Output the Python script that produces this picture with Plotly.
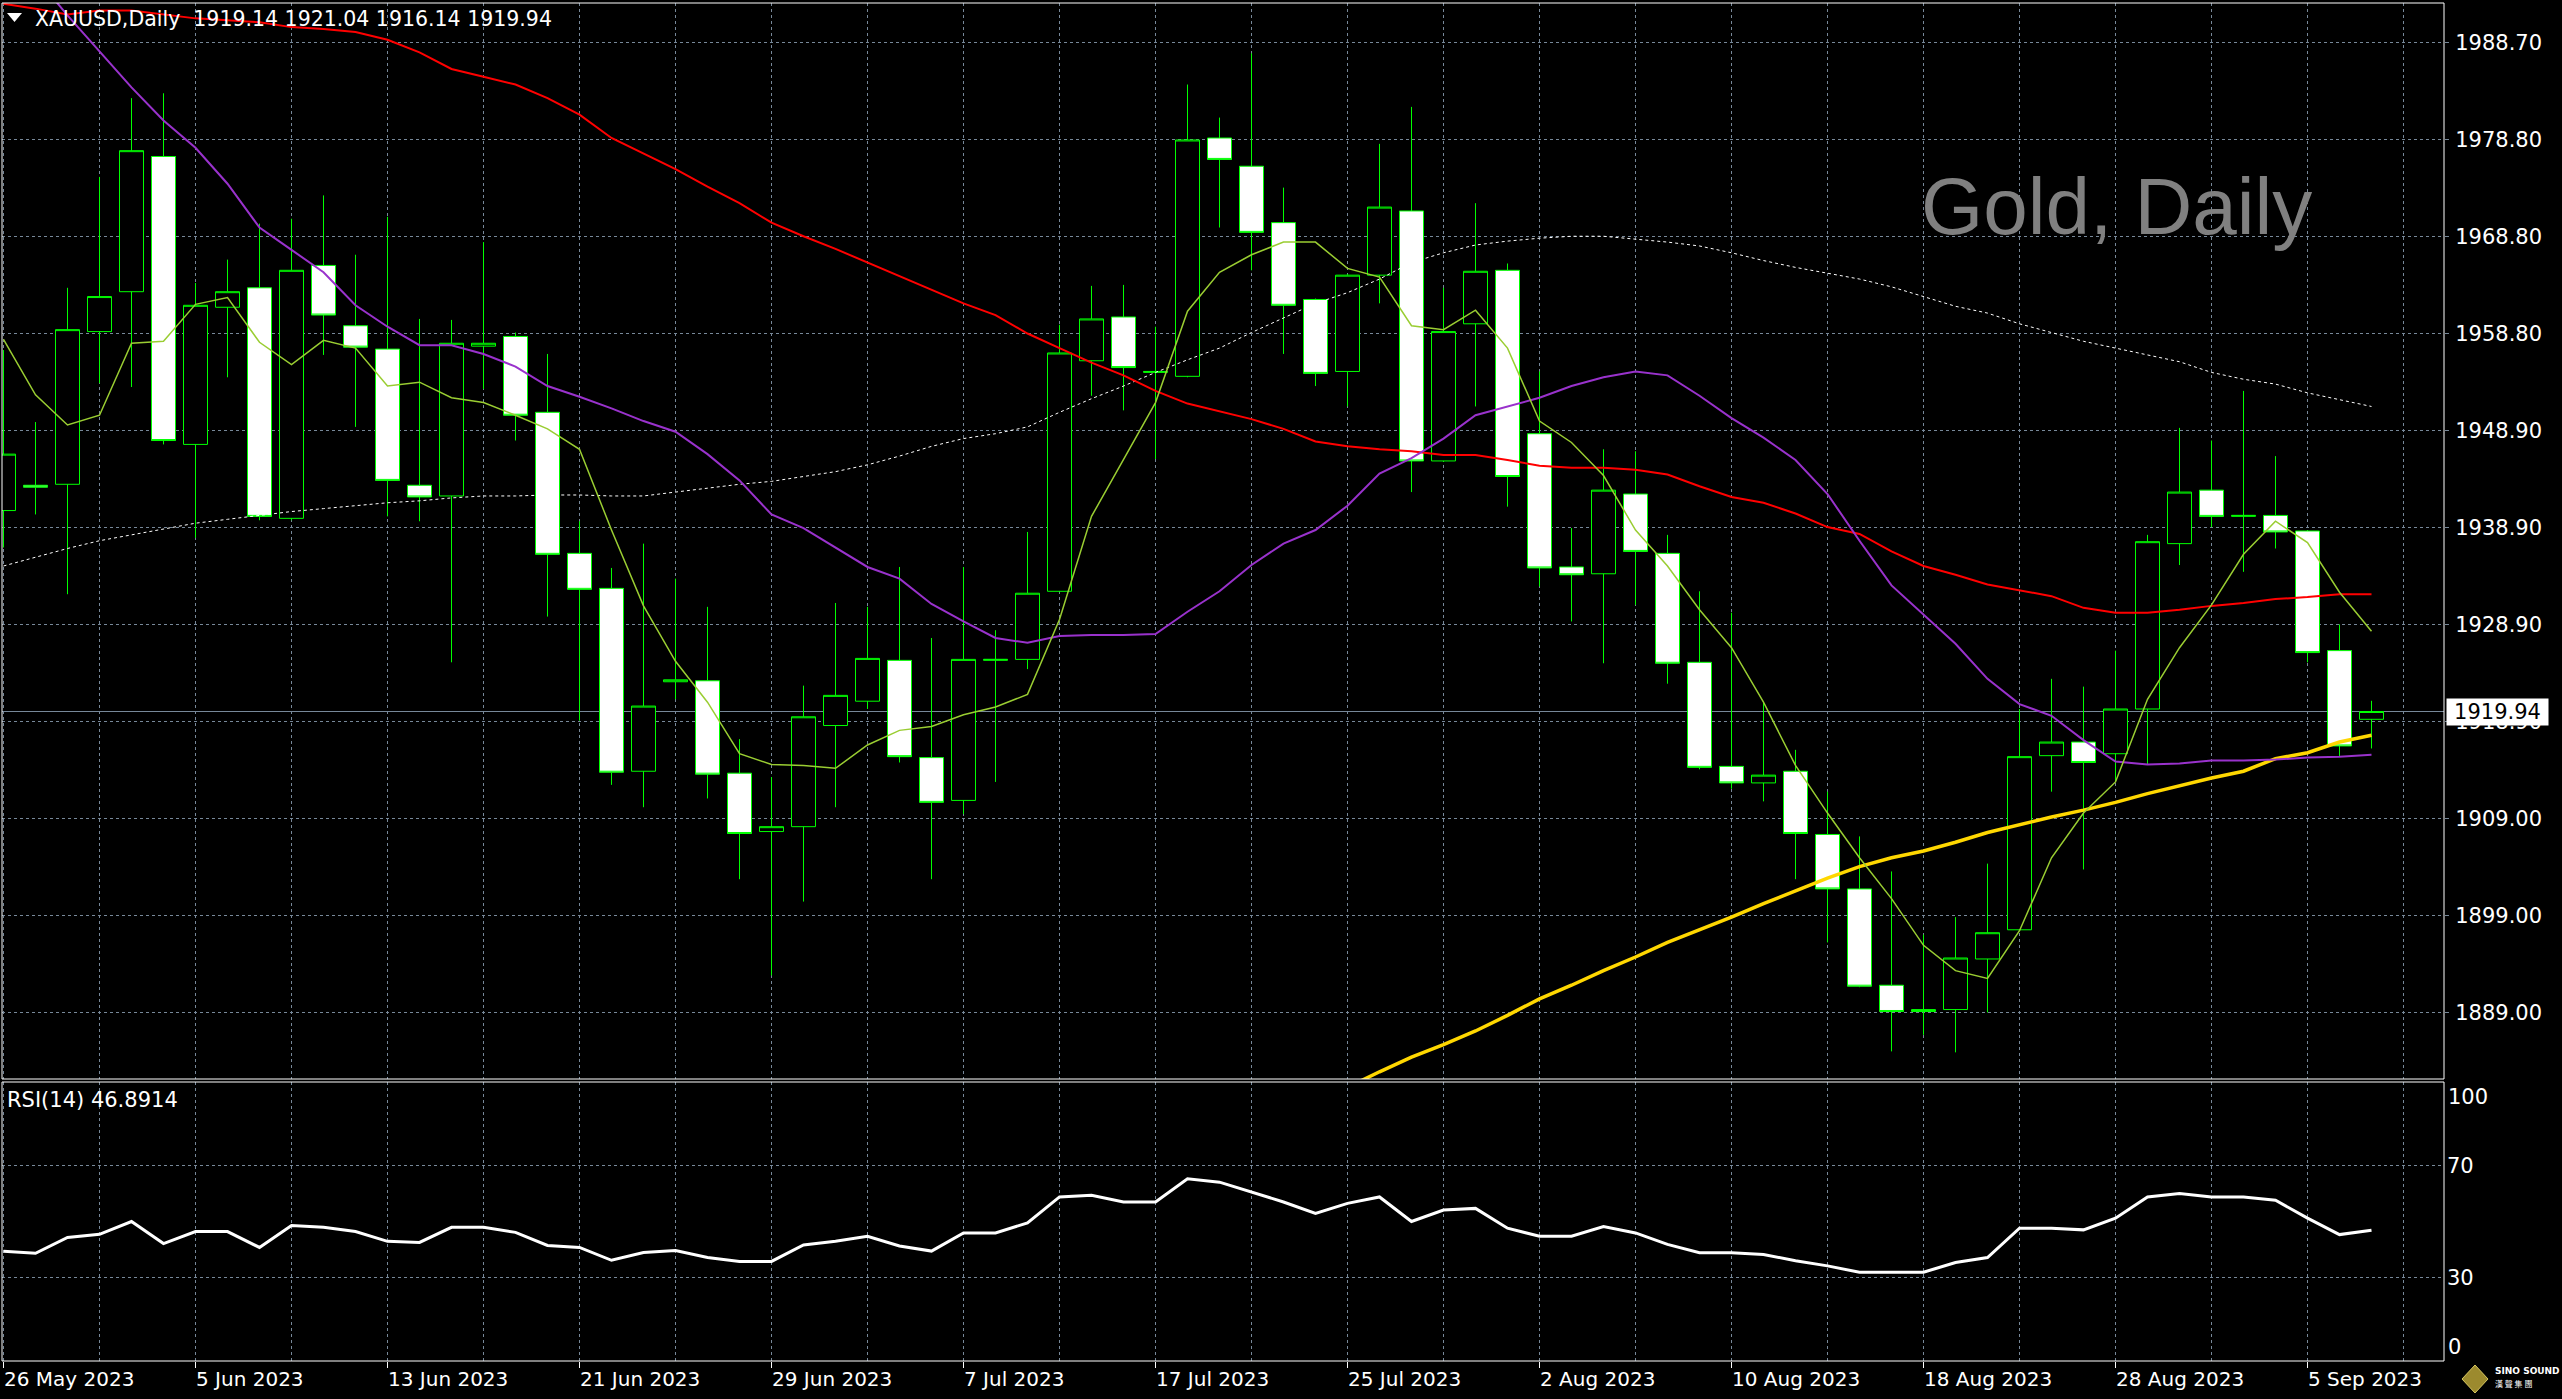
import plotly.graph_objects as go

# ---------------- data ----------------
dates = [
    "2023-05-26", "2023-05-29", "2023-05-30", "2023-05-31",
    "2023-06-01", "2023-06-02", "2023-06-05", "2023-06-06", "2023-06-07", "2023-06-08", "2023-06-09",
    "2023-06-12", "2023-06-13", "2023-06-14", "2023-06-15", "2023-06-16", "2023-06-19", "2023-06-20",
    "2023-06-21", "2023-06-22", "2023-06-23", "2023-06-26", "2023-06-27", "2023-06-28", "2023-06-29",
    "2023-06-30",
    "2023-07-03", "2023-07-04", "2023-07-05", "2023-07-06", "2023-07-07", "2023-07-10", "2023-07-11",
    "2023-07-12", "2023-07-13", "2023-07-14", "2023-07-17", "2023-07-18", "2023-07-19", "2023-07-20",
    "2023-07-21", "2023-07-24", "2023-07-25", "2023-07-26", "2023-07-27", "2023-07-28", "2023-07-31",
    "2023-08-01", "2023-08-02", "2023-08-03", "2023-08-04", "2023-08-07", "2023-08-08", "2023-08-09",
    "2023-08-10", "2023-08-11", "2023-08-14", "2023-08-15", "2023-08-16", "2023-08-17", "2023-08-18",
    "2023-08-21", "2023-08-22", "2023-08-23", "2023-08-24", "2023-08-25", "2023-08-28", "2023-08-29",
    "2023-08-30", "2023-08-31",
    "2023-09-01", "2023-09-04", "2023-09-05", "2023-09-06", "2023-09-07",
]

opens = [
    1940.6, 1943.2, 1943.3, 1959.0, 1963.1, 1977.0, 1947.4, 1961.5, 1963.5, 1939.8,
    1965.8, 1959.6, 1957.2, 1943.2, 1942.1, 1957.5, 1958.5, 1950.7, 1936.2, 1932.6,
    1913.8, 1923.0, 1923.1, 1913.6, 1907.6, 1908.1, 1918.5, 1921.0, 1925.2, 1915.2,
    1910.8, 1925.2, 1925.3, 1932.3, 1956.0, 1960.5, 1954.8, 1954.4, 1978.9, 1976.0,
    1970.2, 1962.3, 1954.9, 1964.8, 1971.4, 1945.7, 1959.8, 1965.3, 1948.5, 1934.8,
    1934.1, 1942.3, 1936.2, 1925.0, 1914.3, 1912.6, 1913.8, 1907.3, 1901.7, 1891.8,
    1889.1, 1889.3, 1894.5, 1897.5, 1915.4, 1916.8, 1915.6, 1920.2, 1937.2, 1942.7,
    1940.0, 1940.1, 1938.5, 1926.2, 1919.14,
]
highs = [
    1957.1, 1949.7, 1963.5, 1974.9, 1983.0, 1983.5, 1964.0, 1966.4, 1970.1, 1970.6,
    1973.0, 1966.9, 1970.8, 1960.3, 1960.2, 1968.2, 1958.9, 1956.7, 1939.5, 1934.7,
    1937.2, 1933.6, 1930.7, 1917.1, 1913.2, 1922.6, 1931.1, 1930.7, 1934.8, 1927.5,
    1934.8, 1928.3, 1938.4, 1959.7, 1963.7, 1963.8, 1959.5, 1984.4, 1981.0, 1987.6,
    1973.8, 1962.4, 1964.9, 1978.3, 1982.1, 1963.5, 1972.2, 1966.0, 1954.9, 1938.8,
    1946.9, 1946.7, 1938.1, 1932.3, 1930.1, 1920.9, 1916.0, 1911.7, 1907.1, 1903.5,
    1897.0, 1898.8, 1904.3, 1920.2, 1923.3, 1922.5, 1926.2, 1938.1, 1949.1, 1947.8,
    1952.9, 1946.2, 1938.6, 1928.9, 1921.04,
]
lows = [
    1936.8, 1940.2, 1932.0, 1953.7, 1953.3, 1947.4, 1937.8, 1954.3, 1939.6, 1939.6,
    1956.6, 1949.2, 1940.0, 1939.5, 1925.0, 1953.1, 1947.8, 1929.7, 1919.0, 1912.4,
    1910.1, 1921.2, 1911.0, 1902.7, 1892.8, 1900.4, 1910.1, 1920.2, 1914.7, 1902.7,
    1909.4, 1912.7, 1924.3, 1932.2, 1952.4, 1950.9, 1945.9, 1954.3, 1969.7, 1965.3,
    1956.7, 1953.4, 1951.3, 1961.9, 1942.5, 1945.6, 1951.3, 1941.0, 1932.8, 1929.2,
    1924.9, 1930.9, 1922.8, 1914.0, 1912.0, 1910.7, 1902.7, 1896.2, 1891.6, 1885.0,
    1886.7, 1884.9, 1889.0, 1897.4, 1911.7, 1903.7, 1912.7, 1914.5, 1935.0, 1938.9,
    1934.3, 1936.7, 1925.0, 1915.3, 1916.14,
]
closes = [
    1946.4, 1943.0, 1959.2, 1962.6, 1977.6, 1947.8, 1961.7, 1963.1, 1940.0, 1965.3,
    1960.7, 1957.4, 1943.7, 1942.0, 1957.8, 1957.8, 1950.4, 1936.1, 1932.5, 1913.7,
    1920.5, 1923.2, 1913.5, 1907.4, 1908.1, 1919.4, 1921.6, 1925.4, 1915.3, 1910.6,
    1925.3, 1925.3, 1932.1, 1956.8, 1960.3, 1955.3, 1954.9, 1978.7, 1976.7, 1969.2,
    1961.7, 1954.7, 1964.8, 1971.8, 1945.7, 1959.0, 1965.2, 1944.1, 1934.7, 1934.0,
    1942.7, 1936.4, 1924.9, 1914.2, 1912.6, 1913.4, 1907.4, 1901.7, 1891.7, 1889.1,
    1889.3, 1894.6, 1897.2, 1915.3, 1916.8, 1914.7, 1920.2, 1937.4, 1942.5, 1940.0,
    1940.1, 1938.4, 1926.0, 1916.4, 1919.94,
]

ma_fast = [  # yellow-green
    1958.2, 1952.5, 1949.4, 1950.4, 1957.8, 1958.0, 1961.8, 1962.5, 1957.9, 1955.6,
    1958.1, 1957.3, 1953.4, 1953.8, 1952.2, 1951.7, 1950.4, 1949.0, 1946.9, 1938.6,
    1930.8, 1925.1, 1920.9, 1915.6, 1914.5, 1914.4, 1914.1, 1916.5, 1918.0, 1918.4,
    1919.6, 1920.4, 1921.7, 1929.4, 1940.0, 1945.8, 1951.7, 1961.1, 1965.1, 1966.9,
    1968.2, 1968.2, 1965.5, 1964.6, 1959.6, 1959.2, 1961.2, 1957.3, 1949.8, 1947.6,
    1944.2, 1938.6, 1934.9, 1930.4, 1926.5, 1920.9, 1914.4, 1909.5, 1904.9, 1900.7,
    1895.9, 1893.3, 1892.5, 1897.4, 1904.9, 1909.5, 1912.7, 1921.2, 1926.5, 1930.9,
    1936.1, 1939.5, 1937.3, 1932.2, 1928.2,
]
ma_mid = [  # purple
    1999.0, 1995.5, 1991.5, 1987.8, 1984.1, 1980.7, 1977.9, 1974.2, 1969.7, 1967.4,
    1965.1, 1961.7, 1959.5, 1957.6, 1957.6, 1956.7, 1955.4, 1953.4, 1952.3, 1951.1,
    1949.8, 1948.7, 1946.4, 1943.7, 1940.2, 1938.8, 1936.8, 1934.8, 1933.6, 1931.0,
    1929.2, 1927.5, 1927.0, 1927.7, 1927.8, 1927.8, 1927.9, 1930.2, 1932.3, 1935.0,
    1937.2, 1938.6, 1941.1, 1944.4, 1946.0, 1948.0, 1950.4, 1951.3, 1952.2, 1953.4,
    1954.3, 1954.9, 1954.5, 1952.4, 1950.1, 1948.1, 1945.8, 1942.3, 1937.5, 1932.9,
    1929.9, 1926.9, 1923.3, 1920.7, 1919.5, 1917.0, 1914.8, 1914.5, 1914.6, 1914.9,
    1914.9, 1915.0, 1915.2, 1915.3, 1915.5,
]
ma_slow = [  # red
    1992.7, 1992.2, 1991.6, 1992.0, 1992.0, 1991.6, 1991.2, 1991.0, 1990.8, 1990.3,
    1990.1, 1989.8, 1989.0, 1987.7, 1986.0, 1985.2, 1984.4, 1983.0, 1981.3, 1978.9,
    1977.3, 1975.7, 1973.9, 1972.2, 1970.2, 1968.8, 1967.5, 1966.1, 1964.7, 1963.3,
    1961.9, 1960.7, 1958.8, 1957.3, 1955.8, 1954.5, 1952.9, 1951.6, 1950.8, 1950.0,
    1949.0, 1947.7, 1947.2, 1946.9, 1946.7, 1946.3, 1946.3, 1945.8, 1945.2, 1945.0,
    1945.0, 1944.8, 1944.3, 1943.1, 1942.0, 1941.4, 1940.3, 1938.9, 1938.2, 1936.4,
    1934.9, 1934.0, 1933.0, 1932.4, 1931.8, 1930.6, 1930.1, 1930.1, 1930.4, 1930.8,
    1931.1, 1931.5, 1931.7, 1932.0, 1932.0,
]
ma_100 = [  # white dotted
    1934.9, 1935.8, 1936.7, 1937.5, 1938.1, 1938.7, 1939.3, 1939.7, 1940.1, 1940.5,
    1940.8, 1941.1, 1941.4, 1941.6, 1941.9, 1942.1, 1942.1, 1942.2, 1942.2, 1942.1,
    1942.1, 1942.5, 1942.9, 1943.3, 1943.6, 1944.1, 1944.6, 1945.3, 1946.2, 1947.2,
    1948.0, 1948.5, 1949.2, 1950.7, 1952.1, 1953.4, 1954.8, 1956.1, 1957.3, 1958.9,
    1960.4, 1961.9, 1963.0, 1964.4, 1966.1, 1967.1, 1967.9, 1968.3, 1968.6, 1968.8,
    1968.8, 1968.5, 1968.2, 1967.8, 1967.1, 1966.3, 1965.6, 1965.0, 1964.4, 1963.6,
    1962.6, 1961.6, 1960.9, 1959.8, 1958.9, 1958.0, 1957.3, 1956.6, 1955.9, 1954.8,
    1954.1, 1953.6, 1952.7, 1952.0, 1951.3,
]
ma_200 = [  # gold, last 33 bars (from 25 Jul 2023)
    1881.3, 1882.9, 1884.4, 1885.7, 1887.1, 1888.7, 1890.4, 1891.8, 1893.3, 1894.7,
    1896.2, 1897.5, 1898.8, 1900.2, 1901.5, 1902.8, 1904.0, 1904.9, 1905.6, 1906.5,
    1907.5, 1908.3, 1909.1, 1909.8, 1910.6, 1911.5, 1912.3, 1913.1, 1913.8, 1915.1,
    1915.7, 1916.8, 1917.5,
]
rsi = [
    39.3, 38.6, 44.3, 45.4, 50.0, 42.1, 46.4, 46.4, 40.7, 48.6,
    47.9, 46.4, 42.9, 42.5, 47.9, 47.9, 46.1, 41.4, 40.7, 36.1,
    38.9, 39.6, 37.1, 35.7, 35.7, 41.6, 42.9, 44.7, 41.2, 39.4,
    45.9, 45.9, 49.5, 58.8, 59.4, 57.0, 57.0, 65.3, 64.1, 60.6,
    57.0, 52.9, 56.5, 58.8, 50.0, 54.1, 54.7, 47.6, 44.7, 44.7,
    48.2, 45.9, 41.8, 38.8, 38.8, 38.2, 35.9, 34.1, 31.8, 31.8,
    31.8, 35.3, 37.1, 47.6, 47.6, 47.0, 51.2, 58.8, 60.0, 58.8,
    58.8, 57.6, 51.2, 45.3, 46.8914,
]

price_grid = [1988.70, 1978.73, 1968.76, 1958.79, 1948.82, 1938.85, 1928.88,
              1918.91, 1908.94, 1898.97, 1889.00]
price_grid_labels = ["1988.70", "1978.80", "1968.80", "1958.80", "1948.90", "1938.90",
                     "1928.90", "1918.90", "1909.00", "1899.00", "1889.00"]
rsi_grid = [30, 70]
rsi_grid_labels = ["30", "70"]
label_dates = ["2023-05-26", "2023-06-05", "2023-06-13", "2023-06-21", "2023-06-29",
               "2023-07-07", "2023-07-17", "2023-07-25", "2023-08-02", "2023-08-10",
               "2023-08-18", "2023-08-28", "2023-09-05"]
date_tick_labels = ["26 May 2023", "5 Jun 2023", "13 Jun 2023", "21 Jun 2023", "29 Jun 2023",
                    "7 Jul 2023", "17 Jul 2023", "25 Jul 2023", "2 Aug 2023", "10 Aug 2023",
                    "18 Aug 2023", "28 Aug 2023", "5 Sep 2023"]

# ---------------- layout geometry (pixels) ----------------
W, H = 2562, 1399
PL, PR, PT, PB = 2, 2444, 3, 1361
MAIN_BOTTOM, RSI_TOP = 1079, 1082
BAR_PX, FIRST_BAR_PX = 32, 3.5


def px_x(p):
    return (p - PL) / (PR - PL)


def px_y(p):
    return (PB - p) / (PB - PT)


GRID = "#778899"
FONT = "DejaVu Sans"

x_idx = list(range(len(dates)))
x_200 = x_idx[len(dates) - len(ma_200):]

fig = go.Figure()

fig.add_trace(go.Candlestick(
    x=x_idx, open=opens, high=highs, low=lows, close=closes,
    increasing=dict(line=dict(color="#00FF00", width=1), fillcolor="#000000"),
    decreasing=dict(line=dict(color="#00FF00", width=1), fillcolor="#FFFFFF"),
    whiskerwidth=0, xaxis="x", yaxis="y", showlegend=False, hoverinfo="skip"))

fig.add_trace(go.Scatter(x=x_idx, y=ma_100, mode="lines", xaxis="x", yaxis="y",
                         line=dict(color="#FFFFFF", width=1, dash="dot"), showlegend=False))
fig.add_trace(go.Scatter(x=x_200, y=ma_200, mode="lines", xaxis="x", yaxis="y",
                         line=dict(color="#FFD700", width=3.5), showlegend=False))
fig.add_trace(go.Scatter(x=x_idx, y=ma_slow, mode="lines", xaxis="x", yaxis="y",
                         line=dict(color="#FF0000", width=2), showlegend=False))
fig.add_trace(go.Scatter(x=x_idx, y=ma_mid, mode="lines", xaxis="x", yaxis="y",
                         line=dict(color="#9932CC", width=2), showlegend=False))
fig.add_trace(go.Scatter(x=x_idx, y=ma_fast, mode="lines", xaxis="x", yaxis="y",
                         line=dict(color="#9ACD32", width=1.5), showlegend=False))

fig.add_trace(go.Scatter(x=x_idx, y=rsi, mode="lines", xaxis="x2", yaxis="y2",
                         line=dict(color="#FFFFFF", width=3), showlegend=False))

tickpos = [dates.index(d) for d in label_dates]
x_range = [(PL - FIRST_BAR_PX) / BAR_PX, (PR - FIRST_BAR_PX) / BAR_PX]

common_x = dict(
    range=x_range, showgrid=True, gridcolor=GRID, griddash="3px,3px", gridwidth=1,
    zeroline=False, showline=False, tickmode="array", tickvals=tickpos,
    minor=dict(tickmode="linear", tick0=0, dtick=3, showgrid=True, gridcolor=GRID,
               griddash="3px,3px", gridwidth=1, ticks=""),
)

fig.update_layout(
    width=W, height=H,
    margin=dict(l=PL, r=W - PR, t=PT, b=H - PB, pad=0),
    paper_bgcolor="#000000", plot_bgcolor="#000000",
    boxgap=0.25, boxgroupgap=0,
    showlegend=False,
    xaxis=dict(common_x, domain=[0, 1], anchor="y", showticklabels=False, ticks="",
               rangeslider=dict(visible=False)),
    xaxis2=dict(common_x, domain=[0, 1], anchor="y2", matches="x",
                ticktext=date_tick_labels, showticklabels=True,
                ticks="outside", ticklen=6, tickcolor="#FFFFFF",
                ticklabelposition="outside right",
                tickfont=dict(family=FONT, size=20, color="#FFFFFF")),
    yaxis=dict(domain=[px_y(MAIN_BOTTOM), 1], anchor="x", side="right",
               range=[1882.16, 1992.78], tickmode="array", tickvals=price_grid,
               ticktext=price_grid_labels, showgrid=True, gridcolor=GRID,
               griddash="3px,3px", gridwidth=1, zeroline=False, showline=False,
               ticks="outside", ticklen=4, tickcolor=GRID, ticklabelstandoff=2,
               tickfont=dict(family=FONT, size=21, color="#FFFFFF")),
    yaxis2=dict(domain=[0, px_y(RSI_TOP)], anchor="x2", side="right",
                range=[0, 100], tickmode="array", tickvals=rsi_grid,
                ticktext=rsi_grid_labels, showgrid=True, gridcolor=GRID,
                griddash="3px,3px", gridwidth=1, zeroline=False, showline=False,
                ticks="", ticklabelstandoff=2,
                tickfont=dict(family=FONT, size=21, color="#FFFFFF")),
)

shapes = [
    # current price line
    dict(type="line", xref="x domain", yref="y", x0=0, x1=1,
         y0=closes[-1], y1=closes[-1], line=dict(color=GRID, width=1), layer="below"),
    # panel borders
    dict(type="rect", xref="paper", yref="paper", x0=0, x1=1, y0=px_y(MAIN_BOTTOM), y1=1,
         line=dict(color="#FFFFFF", width=1), layer="above"),
    dict(type="rect", xref="paper", yref="paper", x0=0, x1=1, y0=0, y1=px_y(RSI_TOP),
         line=dict(color="#FFFFFF", width=1), layer="above"),
    # header triangle
    dict(type="path", xref="paper", yref="paper",
         path=f"M {px_x(7)} {px_y(13)} L {px_x(22)} {px_y(13)} L {px_x(14.5)} {px_y(22)} Z",
         fillcolor="#FFFFFF", line=dict(width=0), layer="above"),
    # logo diamond
    dict(type="path", xref="paper", yref="paper",
         path=f"M {px_x(2475)} {px_y(1365)} L {px_x(2488)} {px_y(1379)} "
              f"L {px_x(2475)} {px_y(1393)} L {px_x(2462)} {px_y(1379)} Z",
         fillcolor="#9C8A2E", line=dict(color="#D8C860", width=1), layer="above"),
]
fig.update_layout(shapes=shapes)

annotations = [
    dict(xref="paper", yref="paper", x=px_x(33), y=px_y(19), xanchor="left", yanchor="middle",
         text=f"XAUUSD,Daily\u00a0 {opens[-1]:.2f} {highs[-1]:.2f} {lows[-1]:.2f} {closes[-1]:.2f}",
         showarrow=False, font=dict(family=FONT, size=20.5, color="#FFFFFF")),
    dict(xref="paper", yref="paper", x=px_x(2116), y=px_y(206), xanchor="center", yanchor="middle",
         text="Gold, Daily", showarrow=False,
         font=dict(family="Liberation Sans", size=80, color="#808080")),
    dict(xref="paper", yref="paper", x=px_x(5), y=px_y(1100), xanchor="left", yanchor="middle",
         text=f"RSI(14) {rsi[-1]:.4f}", showarrow=False,
         font=dict(family=FONT, size=21, color="#FFFFFF")),
    dict(xref="paper", yref="y", x=px_x(2446), y=closes[-1], xanchor="left", yanchor="middle",
         text=f"{closes[-1]:.2f}", showarrow=False, bgcolor="#FFFFFF", width=101, height=26,
         borderpad=0, font=dict(family=FONT, size=21, color="#000000")),
    dict(xref="paper", yref="paper", x=px_x(2446), y=px_y(1097), xanchor="left", yanchor="middle",
         text="100", showarrow=False, font=dict(family=FONT, size=21, color="#FFFFFF")),
    dict(xref="paper", yref="paper", x=px_x(2446), y=px_y(1347), xanchor="left", yanchor="middle",
         text="0", showarrow=False, font=dict(family=FONT, size=21, color="#FFFFFF")),
    dict(xref="paper", yref="paper", x=px_x(2493), y=px_y(1371), xanchor="left", yanchor="middle",
         text="<b>SINO SOUND</b>", showarrow=False,
         font=dict(family="DejaVu Sans", size=9, color="#FFFFFF")),
    dict(xref="paper", yref="paper", x=px_x(2493), y=px_y(1383), xanchor="left", yanchor="middle",
         text="漢 聲 集 團", showarrow=False,
         font=dict(family="Noto Sans CJK TC", size=8, color="#FFFFFF")),
]
fig.update_layout(annotations=annotations)

fig.write_html("out.html",
               config={"displayModeBar": False},
               post_script="document.body.style.margin='0';document.body.style.overflow='hidden';")
